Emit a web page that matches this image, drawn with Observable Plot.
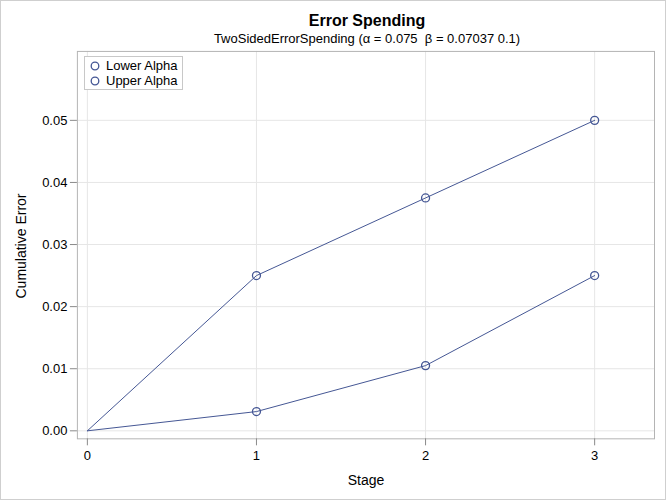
<!DOCTYPE html>
<html>
<head>
<meta charset="utf-8">
<script src="https://cdn.jsdelivr.net/npm/d3@7"></script>
<script src="https://cdn.jsdelivr.net/npm/@observablehq/plot@0.6"></script>
<style>
  html, body { margin: 0; padding: 0; background: #fff; }
  #wrap { position: relative; width: 666px; height: 500px; box-sizing: border-box; border: 1px solid #cfcfcf; overflow: hidden; font-family: "Liberation Sans", Arial, sans-serif; }
  #chart { position: absolute; left: -1px; top: -1px; }
  .t { position: absolute; white-space: nowrap; color: #000; }
  #legend { position: absolute; left: 83px; top: 55px; border: 1px solid #c8c8c8; background: #fff; padding: 1px 4px 1px 5px; font-size: 13px; line-height: 15px; }
  #legend div { display: flex; align-items: center; }
  #legend svg { margin-right: 6px; }
</style>
</head>
<body>
<div id="wrap">
  <div id="chart"></div>
  <div class="t" style="left:366px;transform:translateX(-50%);top:11px;font-size:16px;font-weight:bold;">Error Spending</div>
  <div class="t" style="left:366px;transform:translateX(-50%);top:30px;font-size:13px;">TwoSidedErrorSpending (α = 0.075&nbsp; β = 0.07037 0.1)</div>
  <div class="t" style="left:365px;top:471px;transform:translateX(-50%);font-size:14px;">Stage</div>
  <div class="t" style="left:20px;top:245px;transform:translate(-50%,-50%) rotate(-90deg);font-size:14px;">Cumulative Error</div>
  <div id="legend"></div>
</div>
<script>
const stages = [0, 1, 2, 3];
const lowerAlpha = [0, 0.0031, 0.0105, 0.025];
const upperAlpha = [0, 0.025, 0.0375, 0.05];
const seriesNames = ["Lower Alpha", "Upper Alpha"];
const xTicks = [0, 1, 2, 3];
const yTicks = [0, 0.01, 0.02, 0.03, 0.04, 0.05];
const color = "#445694";

const data = [];
stages.forEach((s, i) => {
  data.push({stage: s, value: lowerAlpha[i], series: seriesNames[0]});
  data.push({stage: s, value: upperAlpha[i], series: seriesNames[1]});
});

const chart = Plot.plot({
  width: 666,
  height: 500,
  marginLeft: 77,
  marginRight: 11,
  marginTop: 51,
  marginBottom: 61,
  style: {fontFamily: "'Liberation Sans', Arial, sans-serif", fontSize: "13px", background: "transparent"},
  x: {domain: [-0.059, 3.354], ticks: xTicks},
  y: {domain: [-0.00129, 0.0611], ticks: yTicks},
  marks: [
    Plot.gridX(xTicks, {stroke: "#e6e6e6", strokeOpacity: 1}),
    Plot.gridY(yTicks, {stroke: "#e6e6e6", strokeOpacity: 1}),
    Plot.line(data, {x: "stage", y: "value", z: "series", stroke: color, strokeWidth: 1}),
    Plot.dot(data.filter(d => d.stage > 0), {x: "stage", y: "value", r: 4, stroke: color, strokeWidth: 1.3, fill: "none"}),
    Plot.frame({stroke: "#b4b4b4"}),
    Plot.axisX(xTicks, {tickSize: 7, tickPadding: 5, label: null, tickFormat: d3.format("d"), stroke: "#8a8a8a", fontSize: 13}),
    Plot.axisY(yTicks, {tickSize: 7, tickPadding: 3, label: null, tickFormat: d3.format(".2f"), stroke: "#8a8a8a", fontSize: 13})
  ]
});
document.getElementById("chart").appendChild(chart);

const legend = document.getElementById("legend");
seriesNames.forEach(name => {
  const row = document.createElement("div");
  row.innerHTML = `<svg width="10" height="10"><circle cx="5" cy="5" r="3.8" fill="none" stroke="${color}" stroke-width="1.3"/></svg><span>${name}</span>`;
  legend.appendChild(row);
});
</script>
</body>
</html>
